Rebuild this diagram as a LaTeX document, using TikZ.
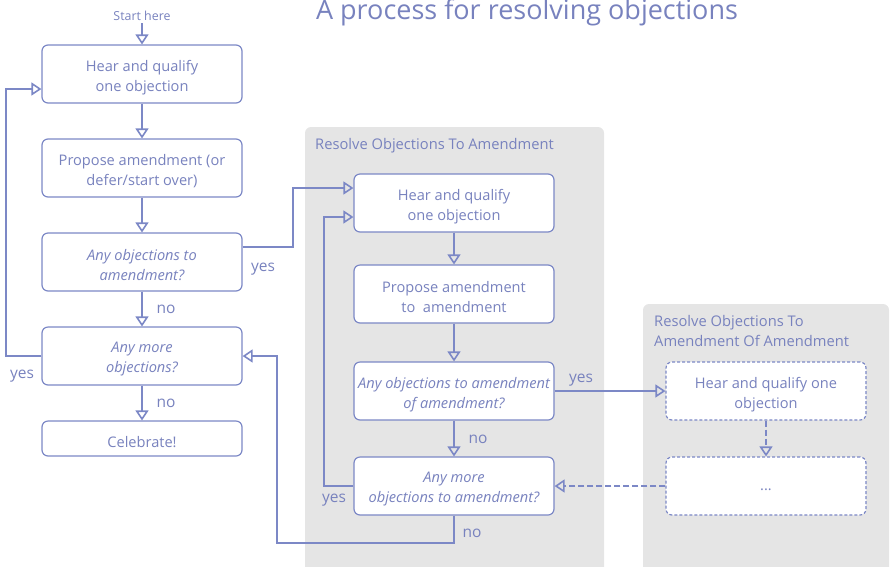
\documentclass[tikz,border=0pt]{standalone}
\usepackage{fontspec}
\setmainfont{Open Sans}
\usetikzlibrary{arrows.meta,calc}
\definecolor{ink}{RGB}{124,136,198}
\definecolor{inktext}{RGB}{120,130,190}
\definecolor{panelgray}{RGB}{229,229,229}
\begin{document}
\begin{tikzpicture}[x=1pt,y=1pt,
  boxtext/.style={align=center, text=inktext, font=\fontsize{14.6}{20}\selectfont, inner sep=0pt, yshift=-3.5pt},
  qtext/.style={boxtext, font=\fontsize{14.6}{20}\selectfont\itshape},
  box/.style={draw=ink, line width=1.2pt, rounded corners=6pt, fill=white,
    minimum width=200pt, minimum height=58pt, inner sep=0pt,
    label={[boxtext]center:{#1}}},
  qbox/.style={draw=ink, line width=1.2pt, rounded corners=6pt, fill=white,
    minimum width=200pt, minimum height=58pt, inner sep=0pt,
    label={[qtext]center:{#1}}},
  dbox/.style={box=#1, dash pattern=on 3pt off 2pt},
  flow/.style={draw=ink, line width=2pt, -{Triangle[open, width=13pt, length=10pt, line width=1.6pt]}},
  dflow/.style={flow, dash pattern=on 6pt off 3pt},
  lbl/.style={text=inktext, font=\fontsize{15.5}{18}\selectfont, inner sep=0pt},
  panel/.style={fill=panelgray, rounded corners=6pt},
  ptitle/.style={text=inktext, font=\fontsize{14.7}{20}\selectfont, align=left, anchor=north west, inner sep=0pt}
]
\useasboundingbox (0,0) rectangle (890,-566);

% grey panels for the nested sub-processes
\fill[panel] (305,-127) rectangle (604,-580);
\fill[panel] (643,-304) rectangle (889,-580);
\node[ptitle] (p1title) at (315,-138) {Resolve Objections To Amendment};
\node[ptitle] (p2title) at (654,-315) {Resolve Objections To\\Amendment Of Amendment};

% title
\node[text=inktext, font=\fontsize{27}{30}\selectfont, anchor=base, inner sep=0pt] (title) at (527,-19) {A process for resolving objections};

% main column
\node[text=inktext, font=\fontsize{12.4}{14}\selectfont, anchor=base, inner sep=0pt] (start) at (142,-20) {Start here};
\node[box={Hear and qualify\\one objection}] (hear1) at (142,-74) {};
\node[box={Propose amendment (or\\defer/start over)}] (prop1) at (142,-168) {};
\node[qbox={Any objections to\\amendment?}] (any1) at (142,-262) {};
\node[qbox={Any more\\objections?}] (more1) at (142,-356) {};
\node[box={Celebrate!}, minimum height=35pt] (cele) at (142,-438.5) {};

% first nested process
\node[box={Hear and qualify\\one objection}] (hear2) at (454,-203) {};
\node[box={Propose amendment\\to\ \ amendment}] (prop2) at (454,-294) {};
\node[qbox={Any objections to amendment\\of amendment?}] (any2) at (454,-391) {};
\node[qbox={Any more\\objections to amendment?}] (more2) at (454,-486) {};

% second nested process
\node[dbox={Hear and qualify one\\objection}] (hear3) at (766,-391) {};
\node[dbox={\raisebox{-3pt}{...}}] (dots) at (766,-486) {};

% helper points
\coordinate (h1in) at ($(hear1.west)+(0,-15)$);
\coordinate (h2inA) at ($(hear2.west)+(0,15)$);
\coordinate (h2inB) at ($(hear2.west)+(0,-14)$);
\coordinate (a1out) at ($(any1.east)+(0,15)$);

% connectors: main column
\draw[flow] ($(start.south)+(0,-3)$) -- (hear1.north);
\draw[flow] (hear1) -- (prop1);
\draw[flow] (prop1) -- (any1);
\draw[flow] (any1) -- (more1);
\draw[flow] (more1) -- (cele);
\draw[flow] (more1.west) -- ++(-35,0) |- (h1in);
\draw[flow] (a1out) -- (293,-247) |- (h2inA);

% connectors: first nested process
\draw[flow] (hear2) -- (prop2);
\draw[flow] (prop2) -- (any2);
\draw[flow] (any2) -- (more2);
\draw[flow] (more2.west) -- ++(-29,0) |- (h2inB);
\draw[flow] (more2.south) -- ++(0,-27) -| (277,-356) -- (more1.east);
\draw[flow] (any2.east) -- (hear3.west);

% connectors: second nested process
\draw[dflow] (hear3) -- (dots);
\draw[dflow] (dots.west) -- (more2.east);

% branch labels
\node[lbl] (y1) at (263,-269) {yes};
\node[lbl] (n1) at (166,-309) {no};
\node[lbl] (y2) at (22,-376) {yes};
\node[lbl] (n2) at (166,-403) {no};
\node[lbl] (y3) at (581,-380) {yes};
\node[lbl] (n3) at (478,-439) {no};
\node[lbl] (y4) at (334,-500) {yes};
\node[lbl] (n4) at (472,-533) {no};
\end{tikzpicture}
\end{document}
